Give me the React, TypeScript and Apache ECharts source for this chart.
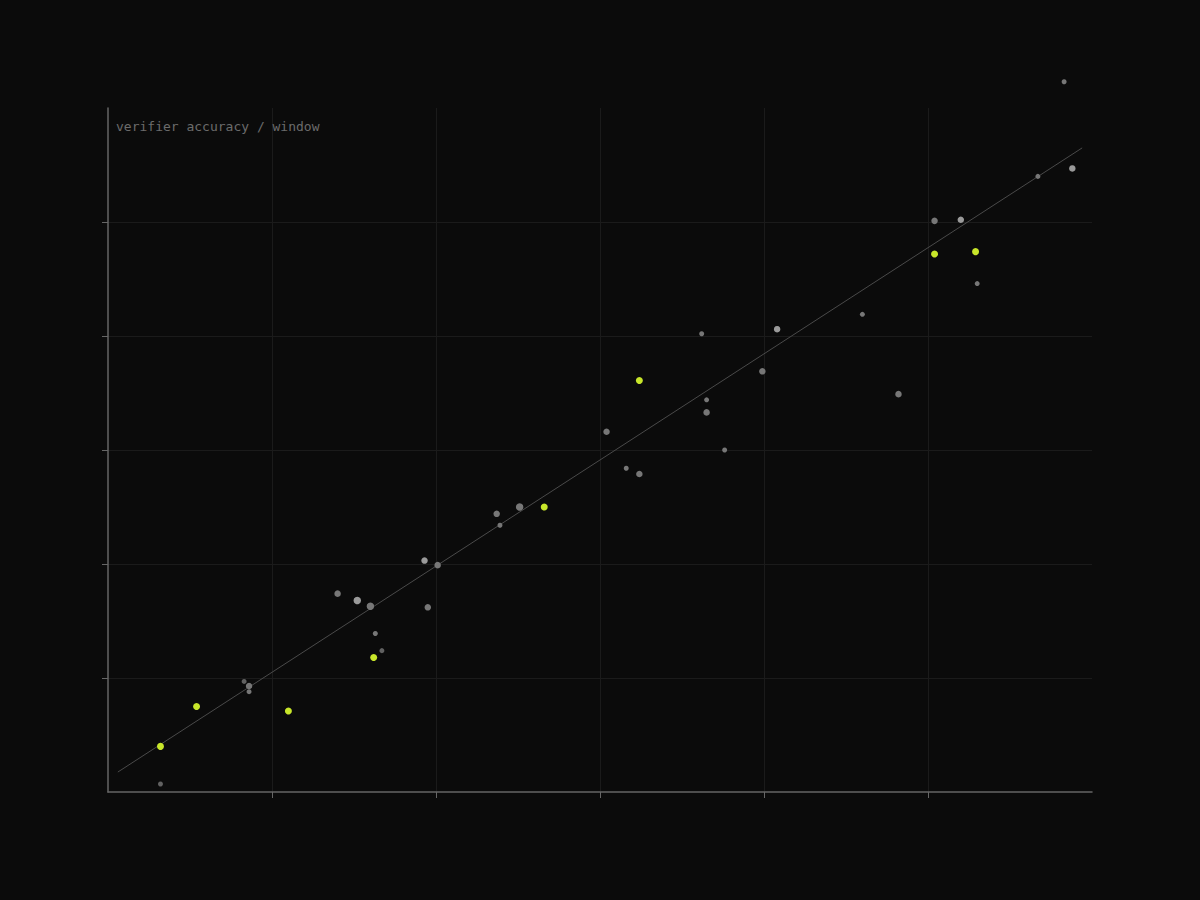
import { useEffect, useRef } from "react";
import * as echarts from "echarts";

// predicted score (x) vs observed accuracy (y), one point per window
const predicted = [
  0.32, 0.32, 0.54, 0.83, 0.86, 0.86, 1.1, 1.62, 1.67, 1.4,
  1.52, 1.6, 1.63, 1.93, 2.01, 1.95, 2.37, 2.39, 2.51, 2.66,
  3.04, 3.16, 3.24, 3.24, 3.62, 3.65, 3.65, 3.76, 3.99, 4.08,
  4.6, 4.82, 5.04, 5.2, 5.04, 5.29, 5.3, 5.67, 5.88, 5.83,
];
const observed = [
  0.4, 0.07, 0.75, 0.97, 0.93, 0.88, 0.71, 1.18, 1.24, 1.74,
  1.68, 1.63, 1.39, 2.03, 1.99, 1.62, 2.44, 2.34, 2.5, 2.5,
  3.16, 2.84, 2.79, 3.61, 4.02, 3.44, 3.33, 3.0, 3.69, 4.06,
  4.19, 3.49, 5.01, 5.02, 4.72, 4.74, 4.46, 5.4, 5.47, 6.23,
];
// sample weight per window: 1 small, 2 medium, 3 large
const weight = [
  2, 1, 2, 1, 2, 1, 2, 2, 1, 2,
  3, 3, 1, 2, 2, 2, 2, 1, 3, 2,
  2, 1, 2, 2, 1, 1, 2, 1, 2, 2,
  1, 2, 2, 2, 2, 2, 1, 1, 2, 1,
];
// verifier agreement per window: 0 low, 1 mid, 2 high
const agreement = [
  0, 0, 0, 0, 1, 1, 0, 0, 0, 1,
  2, 1, 1, 2, 1, 1, 1, 1, 1, 0,
  1, 1, 1, 0, 1, 1, 1, 1, 1, 2,
  1, 1, 1, 2, 0, 0, 1, 1, 2, 1,
];
// flagged windows (highlighted)
const flagged = [0, 2, 6, 7, 19, 23, 34, 35];

const trendStart = [0.06, 0.175];
const trendEnd = [5.94, 5.65];

const xTicks = [1, 2, 3, 4, 5];
const yTicks = [1, 2, 3, 4, 5];

const SHADES = ["#616161", "#777777", "#9a9a9a"];
const SIZES = [0, 5, 6.5, 7.5];
const LIME = "#c8e62a";

function buildOption(): echarts.EChartsCoreOption {
  const gray: any[] = [];
  const lime: any[] = [];
  predicted.forEach((x, i) => {
    if (flagged.includes(i)) {
      lime.push({ value: [x, observed[i]], symbolSize: 7 });
    } else {
      gray.push({
        value: [x, observed[i]],
        symbolSize: SIZES[weight[i]],
        itemStyle: { color: SHADES[agreement[i]], opacity: 1 },
      });
    }
  });

  const axisCommon = {
    type: "value",
    min: 0,
    max: 6,
    interval: 1,
    axisLine: { show: true, lineStyle: { color: "#666666", width: 1.5 } },
    axisLabel: { show: false },
    splitLine: {
      show: true,
      lineStyle: { color: "#1b1b1b", width: 1 },
    },
  };

  return {
    animation: false,
    backgroundColor: "#0b0b0b",
    grid: { left: 108, right: 108, top: 108, bottom: 108 },
    title: {
      text: "verifier accuracy / window",
      left: 111,
      top: 115,
      textStyle: {
        color: "#6b6b6b",
        fontSize: 13,
        fontWeight: "normal",
        fontFamily: "DejaVu Sans Mono",
      },
    },
    xAxis: {
      ...axisCommon,
      axisTick: {
        show: true,
        length: 6,
        customValues: xTicks,
        lineStyle: { color: "#666666", width: 1 },
      },
    },
    yAxis: {
      ...axisCommon,
      axisTick: {
        show: true,
        length: 6,
        customValues: yTicks,
        lineStyle: { color: "#666666", width: 1 },
      },
    },
    series: [
      {
        type: "line",
        data: [trendStart, trendEnd],
        symbol: "none",
        silent: true,
        lineStyle: { color: "#4a4a4a", width: 1 },
        z: 1,
      },
      {
        type: "scatter",
        data: gray,
        clip: false,
        z: 2,
      },
      {
        type: "scatter",
        data: lime,
        clip: false,
        itemStyle: { color: LIME, opacity: 1 },
        z: 3,
      },
    ],
  };
}

export default function App() {
  const ref = useRef<HTMLDivElement | null>(null);

  useEffect(() => {
    const el = ref.current;
    if (!el) return;
    document.body.style.margin = "0";
    document.body.style.background = "#0b0b0b";
    const chart = echarts.init(el, undefined, { renderer: "svg" });
    chart.setOption(buildOption());
    return () => {
      chart.dispose();
    };
  }, []);

  return <div ref={ref} style={{ width: 1200, height: 900 }} />;
}
